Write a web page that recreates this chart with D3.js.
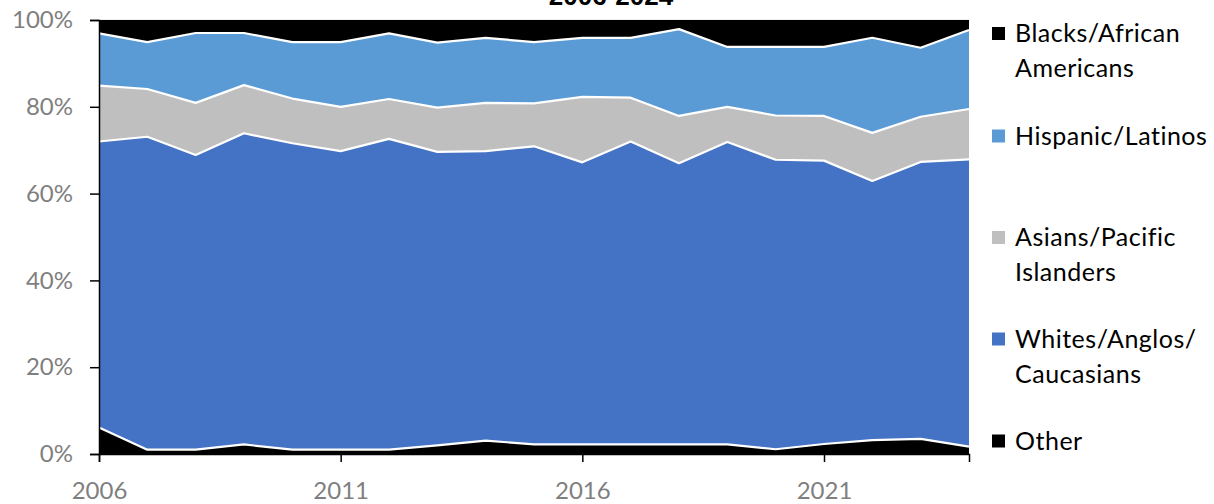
<!DOCTYPE html>
<html>
<head>
<meta charset="utf-8">
<script src="https://cdn.jsdelivr.net/npm/d3@7"></script>
<style>
  html, body { margin: 0; padding: 0; background: #fff; }
  svg { display: block; }
</style>
</head>
<body>
<svg id="chart" width="1214" height="504"></svg>
<script>
// ---- data ----
const years = [2006,2007,2008,2009,2010,2011,2012,2013,2014,2015,2016,2017,2018,2019,2020,2021,2022,2023,2024];
const other    = [6.1,1.0,1.0,2.2,1.0,1.0,1.0,2.0,3.1,2.2,2.2,2.2,2.2,2.2,1.1,2.3,3.2,3.5,1.7];
const whites   = [65.9,72.1,67.9,71.7,70.6,68.8,71.6,67.6,66.7,68.7,65.0,69.8,64.8,69.7,66.7,65.3,59.7,63.8,66.2];
const asians   = [12.9,11.0,12.0,11.1,10.3,10.2,9.2,10.2,11.1,9.9,15.1,10.1,10.9,8.1,10.2,10.3,11.1,10.4,11.6];
const hispanic = [12.0,10.8,16.1,12.0,13.0,14.9,15.1,15.0,15.0,14.1,13.6,13.8,20.0,13.8,15.8,15.9,21.9,15.9,18.2];
const blacks   = [3.1,5.1,3.0,3.0,5.1,5.1,3.1,5.2,4.1,5.1,4.1,4.1,2.1,6.2,6.2,6.2,4.1,6.4,2.3];
const seriesNames = ["Other","Whites/Anglos/ Caucasians","Asians/Pacific Islanders","Hispanic/Latinos","Blacks/African Americans"];
const seriesColors = ["#000000","#4472C4","#BFBFBF","#5B9BD5","#000000"];
const xTicks = [2006,2011,2016,2021];
const yTicks = [0,20,40,60,80,100];
const titleText = "2006-2024";
// legend lines (top to bottom)
const legendItems = [
  {idx:4, lines:["Blacks/African","Americans"]},
  {idx:3, lines:["Hispanic/Latinos"]},
  {idx:2, lines:["Asians/Pacific","Islanders"]},
  {idx:1, lines:["Whites/Anglos/","Caucasians"]},
  {idx:0, lines:["Other"]}
];

// ---- build ----
const seriesValues = [other, whites, asians, hispanic, blacks];
const keys = seriesNames;
const table = years.map((y,i) => {
  const o = {year:y};
  keys.forEach((k,j) => o[k] = seriesValues[j][i]);
  return o;
});

const svg = d3.select("#chart");
const x = d3.scaleLinear().domain([2006,2024]).range([99,969]);
const y = d3.scaleLinear().domain([0,100]).range([454,20]);

const stack = d3.stack().keys(keys);
const layers = stack(table);

// gridline at top
svg.append("line").attr("x1",x(2006)).attr("x2",x(2024)).attr("y1",y(100)).attr("y2",y(100))
  .attr("stroke","#D9D9D9").attr("stroke-width",1);

const area = d3.area()
  .x(d => x(d.data.year))
  .y0(d => y(d[0]))
  .y1(d => y(d[1]));

svg.append("g").selectAll("path").data(layers).join("path")
  .attr("d", area)
  .attr("fill", (d,i) => seriesColors[i]);

// white separators between layers
const topLine = d3.line().x(d => x(d.data.year)).y(d => y(d[1]));
svg.append("g").selectAll("path").data(layers.slice(0,4)).join("path")
  .attr("d", topLine)
  .attr("fill","none")
  .attr("stroke","#fff")
  .attr("stroke-width",2.2)
  .attr("stroke-linejoin","round");

// axes
const yAxis = d3.axisLeft(y).tickValues(yTicks).tickFormat(d => d + "%").tickSize(9).tickPadding(17);
const gy = svg.append("g").attr("transform",`translate(${x(2006)},0)`).call(yAxis);
gy.select(".domain").attr("stroke","#000").attr("stroke-width",1.5);
gy.selectAll(".tick line").attr("stroke","#000").attr("stroke-width",1.5);
gy.selectAll(".tick text").attr("fill","#7F7F7F").style("font-family","Lato, 'Open Sans', sans-serif").style("font-size","24px");

const xAxis = d3.axisBottom(x).tickValues(xTicks).tickFormat(d3.format("d")).tickSize(8).tickPadding(20);
const gx = svg.append("g").attr("transform",`translate(0,${y(0)})`).call(xAxis);
gx.select(".domain").attr("stroke","#000").attr("stroke-width",1.5);
gx.selectAll(".tick line").attr("stroke","#000").attr("stroke-width",1.5);
gx.selectAll(".tick text").attr("fill","#7F7F7F").style("font-family","Lato, 'Open Sans', sans-serif").style("font-size","24px");

// title (partly clipped at top, as in the reference)
svg.append("text").attr("x",611).attr("y",5).attr("text-anchor","middle")
  .style("font-family","'Liberation Sans', Arial, sans-serif").style("font-weight","bold").style("font-size","26px")
  .attr("fill","#000").text(titleText);

// legend
const legendY = [33.5, 136, 237.5, 339, 441];
const lg = svg.append("g");
legendItems.forEach((it,k) => {
  const cy = legendY[k];
  lg.append("rect").attr("x",992).attr("y",cy-6.5).attr("width",13).attr("height",13).attr("fill",seriesColors[it.idx]);
  it.lines.forEach((ln,j) => {
    lg.append("text").attr("x",1015).attr("y",cy + j*35).attr("dy","0.35em")
      .style("font-family","Lato, 'Open Sans', sans-serif").style("font-size","25px")
      .style("letter-spacing","0.5px")
      .attr("fill","#000").text(ln);
  });
});
</script>
</body>
</html>
